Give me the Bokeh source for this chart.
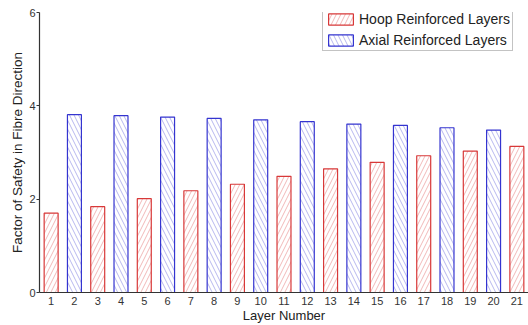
from bokeh.plotting import figure
from bokeh.models import Range1d, FixedTicker, Legend, LegendItem, ColumnDataSource
from bokeh.embed import file_html
from bokeh.resources import INLINE

# Factor of safety in fibre direction for each layer
hoop_layers = [1, 3, 5, 7, 9, 11, 13, 15, 17, 19, 21]
hoop_fos = [1.70, 1.84, 2.01, 2.18, 2.32, 2.49, 2.65, 2.79, 2.93, 3.03, 3.13]
axial_layers = [2, 4, 6, 8, 10, 12, 14, 16, 18, 20]
axial_fos = [3.81, 3.79, 3.76, 3.73, 3.70, 3.66, 3.61, 3.58, 3.53, 3.48]
x_ticks = list(range(1, 22))
y_ticks = [0, 2, 4, 6]

FONT = "Liberation Sans"
RED = "#d83838"
BLUE = "#3434d0"

p = figure(width=528, height=325, output_backend="svg", toolbar_location=None,
           x_range=Range1d(0.5, 21.5), y_range=Range1d(0, 6),
           min_border_left=39, min_border_right=0, min_border_top=12,
           min_border_bottom=33)
p.outline_line_color = None
p.xgrid.grid_line_color = None
p.ygrid.grid_line_color = None
p.background_fill_color = "white"
p.border_fill_color = "white"

hoop_src = ColumnDataSource(dict(x=hoop_layers, top=hoop_fos))
axial_src = ColumnDataSource(dict(x=axial_layers, top=axial_fos))

r_hoop = p.vbar(x="x", top="top", width=0.6, source=hoop_src,
                fill_color="white", line_color=RED, line_width=1.2,
                hatch_pattern="right_diagonal_line", hatch_color=RED,
                hatch_alpha=0.45, hatch_scale=9, hatch_weight=0.8)
r_axial = p.vbar(x="x", top="top", width=0.6, source=axial_src,
                 fill_color="white", line_color=BLUE, line_width=1.2,
                 hatch_pattern="left_diagonal_line", hatch_color=BLUE,
                 hatch_alpha=0.45, hatch_scale=9, hatch_weight=0.8)

# axes
p.xaxis.ticker = FixedTicker(ticks=x_ticks)
p.yaxis.ticker = FixedTicker(ticks=y_ticks)
for ax in (p.xaxis[0], p.yaxis[0]):
    ax.axis_line_color = "#333333"
    ax.axis_line_width = 1.2
    ax.major_tick_line_color = "#333333"
    ax.minor_tick_line_color = None
    ax.major_label_text_font = FONT
    ax.major_label_text_font_size = "11px"
    ax.major_label_text_color = "#333333"
    ax.axis_label_text_font = FONT
    ax.axis_label_text_font_size = "13px"
    ax.axis_label_text_font_style = "normal"
    ax.axis_label_text_color = "#222222"
p.xaxis.major_tick_out = 0
p.xaxis.major_tick_in = 0
p.xaxis.major_label_standoff = 4
p.xaxis.axis_label = "Layer Number"
p.xaxis.axis_label_standoff = 0
p.yaxis.major_tick_out = 3
p.yaxis.major_tick_in = 0
p.yaxis.major_label_standoff = 1
p.yaxis.axis_label = "Factor of Safety in Fibre Direction"
p.yaxis.axis_label_text_font_size = "13.5px"
p.yaxis.axis_label_standoff = 1

legend = Legend(items=[LegendItem(label="Hoop Reinforced Layers", renderers=[r_hoop]),
                       LegendItem(label="Axial Reinforced Layers", renderers=[r_axial])],
                location=(283, 241))
legend.label_text_font = FONT
legend.label_text_font_size = "14px"
legend.label_text_color = "#222222"
legend.label_standoff = 3
legend.glyph_width = 31
legend.glyph_height = 14
legend.label_height = 14
legend.spacing = 5
legend.padding = 2
legend.margin = 0
legend.border_line_color = "#888888"
legend.border_line_width = 1
p.add_layout(legend)

open("out.html", "w").write(file_html(p, INLINE))
